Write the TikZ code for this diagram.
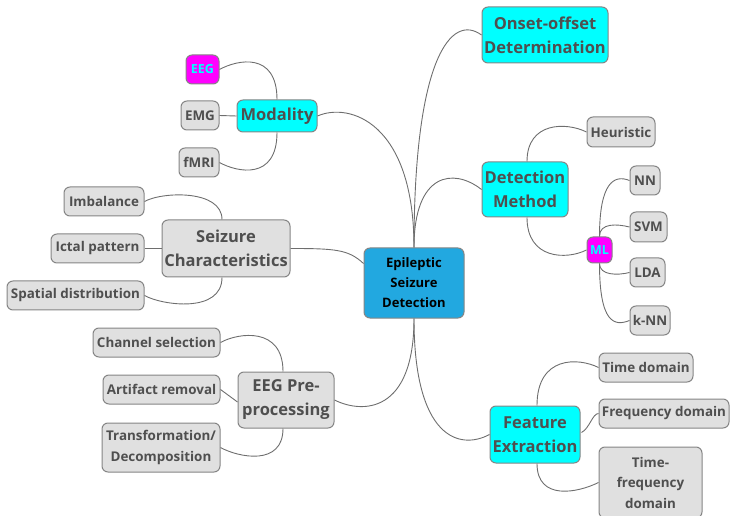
\documentclass[tikz,border=0pt]{standalone}
\usepackage{fontspec}
\setmainfont{Open Sans}
\usetikzlibrary{calc}
\definecolor{txtgray}{HTML}{4F4F4F}
\definecolor{boxgray}{HTML}{E0E0E0}
\definecolor{edgegray}{HTML}{858585}
\definecolor{linegray}{HTML}{6E6E6E}
\definecolor{rootblue}{HTML}{22A8E0}
\definecolor{topiccyan}{HTML}{00FFFF}
\definecolor{tagmagenta}{HTML}{FF00FF}
\tikzset{
  box/.style={draw=edgegray, line width=1pt, rounded corners=6pt, inner sep=0pt,
    align=center, text=txtgray, font=\bfseries},
  rootbox/.style={box, fill=rootblue, text=black, font=\bfseries\fontsize{13}{20}\selectfont},
  mainbox/.style={box, fill=topiccyan, font=\bfseries\fontsize{16.5}{24}\selectfont},
  leafbox/.style={box, fill=boxgray, font=\bfseries\fontsize{13.4}{20.5}\selectfont},
  tagbox/.style={box, fill=tagmagenta, text=topiccyan, font=\bfseries\fontsize{12.5}{14}\selectfont},
  link/.style={draw=linegray, line width=0.9pt},
}
\begin{document}
\begin{tikzpicture}[x=1pt, y=-1pt]
\useasboundingbox (0,0) rectangle (732,516);

% central topic
\node[rootbox, minimum width=100pt, minimum height=70pt] (root) at (414,283) {Epileptic\\Seizure\\Detection};

% main topics
\node[mainbox, minimum width=126pt, minimum height=56pt] (onset) at (545,35) {Onset-offset\\Determination};
\node[mainbox, minimum width=86pt, minimum height=55pt] (detect) at (525,189.5) {Detection\\Method};
\node[mainbox, minimum width=90pt, minimum height=57pt] (feat) at (535,434.5) {Feature\\Extraction};
\node[mainbox, minimum width=80pt, minimum height=32pt] (modal) at (277,116) {Modality};
\node[leafbox, font=\bfseries\fontsize{16.5}{24}\selectfont, minimum width=128pt, minimum height=57pt] (seiz) at (226,248.5) {Seizure\\Characteristics};
\node[leafbox, font=\bfseries\fontsize{16.5}{24}\selectfont, minimum width=96pt, minimum height=56pt] (pre) at (286,400) {EEG Pre-\\processing};

% detection method
\node[leafbox, minimum width=68pt, minimum height=30pt] (heur) at (621,132) {Heuristic};
\node[tagbox, minimum width=25pt, minimum height=26pt] (ml) at (599.5,250) {ML};
\node[leafbox, minimum width=30pt, minimum height=29pt] (nn) at (645,180.5) {NN};
\node[leafbox, minimum width=37pt, minimum height=30pt] (svm) at (648.5,227) {SVM};
\node[leafbox, minimum width=35pt, minimum height=29pt] (lda) at (647.5,272.5) {LDA};
\node[leafbox, minimum width=40pt, minimum height=29pt] (knn) at (650,320.5) {k-NN};

% feature extraction
\node[leafbox, minimum width=94pt, minimum height=29pt] (tdom) at (646,367.5) {Time domain};
\node[leafbox, minimum width=130pt, minimum height=29pt] (fdom) at (664,413.5) {Frequency domain};
\node[leafbox, minimum width=103pt, minimum height=71pt] (tfdom) at (650.5,482.5) {Time-\\frequency\\domain};

% modality
\node[tagbox, minimum width=33pt, minimum height=29pt] (eeg) at (202.5,69.5) {EEG};
\node[leafbox, minimum width=38pt, minimum height=29pt] (emg) at (200,115.5) {EMG};
\node[leafbox, minimum width=40pt, minimum height=29pt] (fmri) at (199,162.5) {fMRI};

% seizure characteristics
\node[leafbox, minimum width=80pt, minimum height=29pt] (imb) at (104,201.5) {Imbalance};
\node[leafbox, minimum width=93pt, minimum height=29pt] (ictal) at (97.5,248.5) {Ictal pattern};
\node[leafbox, minimum width=137pt, minimum height=29pt] (spat) at (75.5,295.5) {Spatial distribution};

% pre-processing
\node[leafbox, minimum width=127pt, minimum height=29pt] (chan) at (156.5,342.5) {Channel selection};
\node[leafbox, minimum width=117pt, minimum height=29pt] (art) at (161.5,389.5) {Artifact removal};
\node[leafbox, minimum width=118pt, minimum height=49pt] (trans) at (161,447.5) {Transformation/\\Decomposition};

% central connectors
\coordinate (rootleft) at ($(root.north west)+(0,16)$);
\draw[link] (root.north) .. controls +(0,-190) and +(-30,-22) .. (onset.west);
\draw[link] (root.north) .. controls +(0,-75) and +(-28,-22) .. (detect.west);
\draw[link] (root.north) .. controls +(0,-125) and +(32,-14) .. (modal.east);
\draw[link] (seiz.east) .. controls +(45,0) and +(-15,-14) .. (rootleft);
\draw[link] (root.south) .. controls +(0,95) and +(28,14) .. (pre.east);
\draw[link] (root.south) .. controls +(0,120) and +(-30,16) .. (feat.west);

% detection method connectors
\draw[link] ($(detect.north)+(2,0)$) .. controls +(0,-40) and +(-20,-10) .. (heur.west);
\draw[link] ($(detect.south)+(2,0)$) .. controls +(0,42) and +(-20,10) .. (ml.west);
\draw[link] (ml.north) .. controls +(0,-55) and +(-15,-6) .. (nn.west);
\draw[link] (ml.north) .. controls +(0,-14) and +(-12,-3) .. (svm.west);
\draw[link] (ml.south) .. controls +(0,12) and +(-12,3) .. (lda.west);
\draw[link] (ml.south) .. controls +(0,60) and +(-15,6) .. (knn.west);

% feature extraction connectors
\draw[link] ($(feat.north)+(2,0)$) .. controls +(0,-50) and +(-20,-10) .. (tdom.west);
\draw[link] ($(feat.east)+(1,-2)$) .. controls +(8,-4) and +(-6,0) .. (fdom.west);
\draw[link] ($(feat.south)+(2,0)$) .. controls +(0,38) and +(-20,10) .. (tfdom.west);

% modality connectors
\draw[link] (modal.north) .. controls +(0,-48) and +(18,-10) .. (eeg.east);
\draw[link] (emg.east) -- (modal.west);
\draw[link] (modal.south) .. controls +(0,48) and +(18,10) .. (fmri.east);

% seizure characteristics connectors
\draw[link] ($(seiz.north)+(-4,0)$) .. controls +(0,-30) and +(18,-10) .. (imb.east);
\draw[link] (ictal.east) -- (seiz.west);
\draw[link] ($(seiz.south)+(-4,0)$) .. controls +(0,36) and +(18,10) .. (spat.east);

% pre-processing connectors
\draw[link] ($(pre.north)+(-3,0)$) .. controls +(0,-45) and +(18,-10) .. (chan.east);
\draw[link] (art.east) -- ($(pre.west)+(0,2)$);
\draw[link] ($(pre.south)+(-3,0)$) .. controls +(0,38) and +(18,10) .. (trans.east);
\end{tikzpicture}
\end{document}
